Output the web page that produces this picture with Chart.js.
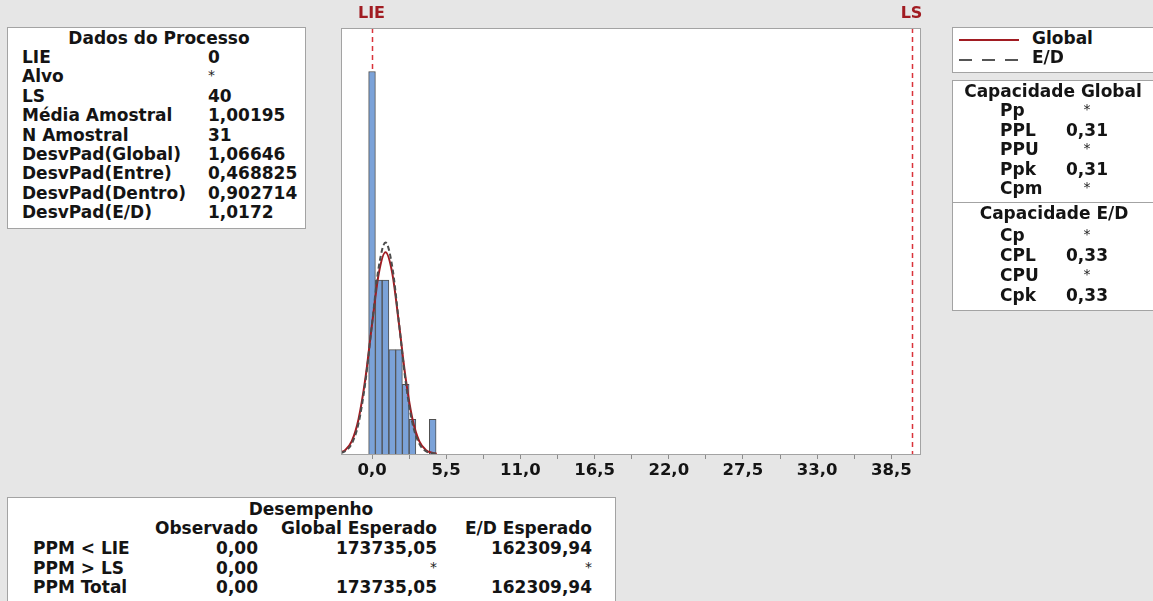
<!DOCTYPE html>
<html>
<head>
<meta charset="utf-8">
<script src="https://cdn.jsdelivr.net/npm/chart.js@4/dist/chart.umd.min.js"></script>
<style>
  html, body { margin: 0; padding: 0; background: #e6e6e6; }
  body { width: 1153px; height: 601px; position: relative; overflow: hidden;
         font-family: 'DejaVu Sans', sans-serif; font-weight: bold; font-size: 17px; color: #141414; }
  #wrap { position: absolute; left: 0; top: 0; width: 1153px; height: 601px; }
  .box { position: absolute; background: #fff; border: 1px solid #a3a3a3; box-sizing: border-box; }
  .t { position: absolute; line-height: 20px; white-space: pre; }
  .star { font-size: 14px; font-weight: normal; color: #222; line-height: 16px; }
  .sep { position: absolute; height: 1px; background: #a3a3a3; }
</style>
</head>
<body>
<div id="wrap"><canvas id="cap"></canvas></div>
<div id="layer"></div>
<script>
// histogram bins (centre, count)
const binCenters = [0, 0.5, 1.0, 1.5, 2.0, 2.5, 3.0, 4.5];
const binCounts  = [11, 5, 5, 3, 3, 2, 1, 1];

// fitted curves (same units as counts)
const curveX    = [-2.3, -2.0, -1.5, -1.0, -0.5, 0.0, 0.5, 1.0, 1.5, 2.0, 2.5, 3.0, 3.5, 4.0, 4.5, 4.8];
const globalFit = [0.05, 0.11, 0.37, 1.00, 2.15, 3.73, 5.19, 5.80, 5.20, 3.74, 2.16, 1.00, 0.37, 0.11, 0.03, 0.01];
const withinFit = [0.03, 0.08, 0.30, 0.88, 2.05, 3.74, 5.38, 6.08, 5.39, 3.76, 2.06, 0.88, 0.30, 0.08, 0.02, 0.01];

const specLimits = [0, 40];
const specNames  = ['LIE', 'LS'];

const xTicks      = [0, 2.75, 5.5, 8.25, 11, 13.75, 16.5, 19.25, 22, 24.75, 27.5, 30.25, 33, 35.75, 38.5];
const xTickLabels = ['0,0', '', '5,5', '', '11,0', '', '16,5', '', '22,0', '', '27,5', '', '33,0', '', '38,5'];

const processLabels = ['LIE', 'Alvo', 'LS', 'Média Amostral', 'N Amostral', 'DesvPad(Global)', 'DesvPad(Entre)', 'DesvPad(Dentro)', 'DesvPad(E/D)'];
const processValues = ['0', '*', '40', '1,00195', '31', '1,06646', '0,468825', '0,902714', '1,0172'];

const globalCapLabels = ['Pp', 'PPL', 'PPU', 'Ppk', 'Cpm'];
const globalCapValues = ['*', '0,31', '*', '0,31', '*'];
const withinCapLabels = ['Cp', 'CPL', 'CPU', 'Cpk'];
const withinCapValues = ['*', '0,33', '*', '0,33'];

const perfColumns  = ['Observado', 'Global Esperado', 'E/D Esperado'];
const perfRows     = ['PPM < LIE', 'PPM > LS', 'PPM Total'];
const perfObserved = ['0,00', '0,00', '0,00'];
const perfGlobal   = ['173735,05', '*', '173735,05'];
const perfWithin   = ['162309,94', '*', '162309,94'];

const RED = '#a11c22', SPEC = '#d9333b', FONT = 'DejaVu Sans';

// ---- text panels ----
const layer = document.getElementById('layer');
function box(x, y, w, h) {
  const d = document.createElement('div');
  d.className = 'box';
  Object.assign(d.style, { left: x + 'px', top: y + 'px', width: w + 'px', height: h + 'px' });
  layer.appendChild(d);
}
function txt(s, x, y, align) {
  const d = document.createElement('div');
  d.className = 't';
  d.textContent = s;
  d.style.left = x + 'px';
  d.style.top = (y - 10) + 'px';
  if (s === '*') { d.classList.add('star'); d.style.top = (y - 9) + 'px'; }
  if (align === 'c') d.style.transform = 'translateX(-50%)';
  if (align === 'r') d.style.transform = 'translateX(-100%)';
  layer.appendChild(d);
}

box(7, 27, 299, 202);
txt('Dados do Processo', 159, 38, 'c');
processLabels.forEach((l, i) => {
  const y = 57 + i * 19.4;
  txt(l, 22, y);
  txt(processValues[i], 208, y);
});

box(952, 27, 205, 46);
const lg = document.createElement('div');
lg.innerHTML = `<svg width="70" height="40" style="position:absolute;left:952px;top:27px">
  <line x1="7" y1="13" x2="67" y2="13" stroke="${RED}" stroke-width="2"/>
  <line x1="7" y1="33" x2="67" y2="33" stroke="#555" stroke-width="2" stroke-dasharray="13 10"/></svg>`;
layer.appendChild(lg);
txt('Global', 1032, 38);
txt('E/D', 1032, 57);

box(952, 80, 205, 231);
txt('Capacidade Global', 1053, 91, 'c');
globalCapLabels.forEach((l, i) => {
  const y = 110 + i * 19.5;
  txt(l, 1000, y);
  txt(globalCapValues[i], 1087, y, 'c');
});
const sp = document.createElement('div');
sp.className = 'sep';
Object.assign(sp.style, { left: '952px', top: '202px', width: '205px' });
layer.appendChild(sp);
txt('Capacidade E/D', 1054, 213, 'c');
withinCapLabels.forEach((l, i) => {
  const y = 235 + i * 20;
  txt(l, 1000, y);
  txt(withinCapValues[i], 1087, y, 'c');
});

box(7, 497, 609, 120);
txt('Desempenho', 311, 509, 'c');
const colRight = [258, 437, 592];
perfColumns.forEach((c, i) => txt(c, colRight[i], 528, 'r'));
perfRows.forEach((r, i) => {
  const y = 548 + i * 19.5;
  txt(r, 33, y);
  txt(perfObserved[i], colRight[0], y, 'r');
  txt(perfGlobal[i], colRight[1], y, 'r');
  txt(perfWithin[i], colRight[2], y, 'r');
});

// ---- chart ----
const plotFrame = {
  id: 'plotFrame',
  beforeDraw(chart) {
    const a = chart.chartArea, ctx = chart.ctx;
    ctx.save();
    ctx.fillStyle = '#fff';
    ctx.fillRect(a.left, a.top, a.right - a.left, a.bottom - a.top);
    ctx.restore();
  },
  beforeDatasetsDraw(chart) {
    const a = chart.chartArea, ctx = chart.ctx, xs = chart.scales.x;
    ctx.save();
    specLimits.forEach((v, i) => {
      const px = Math.round(xs.getPixelForValue(v)) + 0.5;
      ctx.strokeStyle = SPEC;
      ctx.lineWidth = 1.5;
      ctx.setLineDash([5, 4]);
      ctx.beginPath();
      ctx.moveTo(px, a.top);
      ctx.lineTo(px, a.bottom);
      ctx.stroke();
      ctx.setLineDash([]);
      ctx.fillStyle = RED;
      ctx.font = 'bold 16px ' + FONT;
      ctx.textAlign = 'center';
      ctx.textBaseline = 'middle';
      ctx.fillText(specNames[i], px - 1, 14);
    });
    ctx.restore();
  },
  afterDraw(chart) {
    const a = chart.chartArea, ctx = chart.ctx;
    ctx.save();
    ctx.strokeStyle = '#a3a3a3';
    ctx.lineWidth = 1;
    ctx.strokeRect(a.left + 0.5, a.top + 0.5, a.right - a.left - 1, a.bottom - a.top);
    ctx.restore();
  }
};

new Chart(document.getElementById('cap'), {
  type: 'bar',
  data: {
    datasets: [
      { type: 'line', label: 'E/D', data: curveX.map((x, i) => ({ x, y: withinFit[i] })),
        borderColor: '#4d4d4d', borderWidth: 2, borderDash: [5, 3], pointRadius: 0,
        cubicInterpolationMode: 'monotone', order: 0 },
      { type: 'line', label: 'Global', data: curveX.map((x, i) => ({ x, y: globalFit[i] })),
        borderColor: RED, borderWidth: 2, pointRadius: 0,
        cubicInterpolationMode: 'monotone', order: 1 },
      { type: 'bar', label: 'hist', data: binCenters.map((x, i) => ({ x, y: binCounts[i] })),
        backgroundColor: '#7ba2d8', borderColor: '#4f4f4f', borderWidth: 1,
        barPercentage: 1, categoryPercentage: 1, order: 2 }
    ]
  },
  options: {
    responsive: true,
    maintainAspectRatio: false,
    animation: false,
    layout: { padding: { left: 341, right: 232, top: 28, bottom: 117 } },
    plugins: { legend: { display: false }, tooltip: { enabled: false } },
    scales: {
      x: {
        type: 'linear', min: -2.3, max: 40.7, offset: false,
        afterBuildTicks: s => { s.ticks = xTicks.map(v => ({ value: v })); },
        afterFit: s => { s.height = 30; },
        ticks: {
          autoSkip: false, maxRotation: 0, padding: 2, color: '#141414',
          font: { family: FONT, size: 16.5, weight: 'bold' },
          callback: (v, i) => xTickLabels[i]
        },
        grid: { offset: false, drawOnChartArea: false, drawTicks: true, tickLength: 5, color: '#8c8c8c' },
        border: { display: false }
      },
      y: { display: false, min: 0, max: 12.25 }
    }
  },
  plugins: [plotFrame]
});
</script>
</body>
</html>
